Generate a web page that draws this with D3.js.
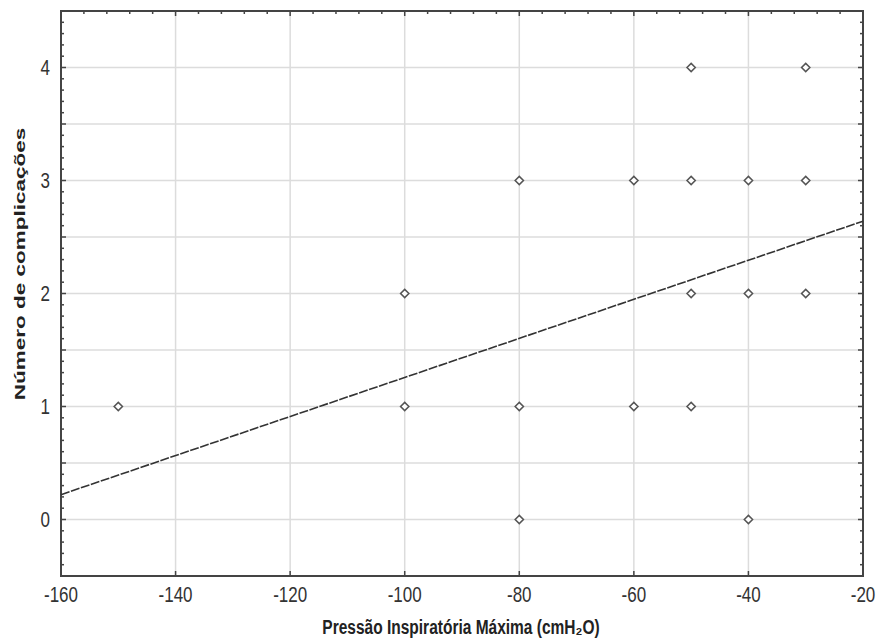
<!DOCTYPE html>
<html>
<head>
<meta charset="utf-8">
<script src="https://cdn.jsdelivr.net/npm/d3@7"></script>
<style>
  body { margin: 0; background: #fff; }
  text { font-family: "Liberation Sans", Arial, sans-serif; }
</style>
</head>
<body>
<script>
// data
let pimax = [-150, -100, -100, -80, -80, -80, -60, -60, -50, -50, -50, -50, -40, -40, -40, -30, -30, -30]
let complications = [1, 2, 1, 3, 1, 0, 3, 1, 4, 3, 2, 1, 3, 2, 0, 4, 3, 2]
let xTicks = [-160, -140, -120, -100, -80, -60, -40, -20]
let yTicks = [0, 1, 2, 3, 4]
let fitX = [-160, -20]
let fitY = [0.22, 2.64]

let w = 881
  , h = 639
  , plotL = 61
  , plotR = 863
  , plotT = 11
  , plotB = 576
  , stretch = 1.3   // the original picture is squeezed sideways, text looks tall

let canvas = d3.select('body')
  .append('svg')
  .attr('width', w)
  .attr('height', h)

let x = d3.scaleLinear().domain([-160, -20]).range([plotL, plotR])
let y = d3.scaleLinear().domain([-0.5, 4.5]).range([plotB, plotT])

// grid
let gridX = d3.range(-140, -20, 20)
let gridY = d3.range(-0.5, 4.51, 0.5)

canvas.selectAll('.gx')
  .data(gridX)
  .enter()
  .append('line')
  .attr('x1', d => x(d)).attr('x2', d => x(d))
  .attr('y1', plotT).attr('y2', plotB)
  .attr('stroke', '#dcdcdc')
  .attr('stroke-width', 1.5)

canvas.selectAll('.gy')
  .data(gridY)
  .enter()
  .append('line')
  .attr('x1', plotL).attr('x2', plotR)
  .attr('y1', d => y(d)).attr('y2', d => y(d))
  .attr('stroke', '#dcdcdc')
  .attr('stroke-width', 1.5)

// ticks, pointing inside
let minorX = d3.range(-160, -19, 4)
let minorY = d3.range(-0.5, 4.51, 0.1)

function tickLen(major) { return major ? 5 : 3 }
function isHalf(d) { return Math.abs(d * 2 - Math.round(d * 2)) < 0.01 }

canvas.selectAll('.tb')
  .data(xTicks)
  .enter()
  .append('line')
  .attr('x1', d => x(d)).attr('x2', d => x(d))
  .attr('y1', plotB).attr('y2', plotB - 5)
  .attr('stroke', '#444').attr('stroke-width', 1.5)

canvas.selectAll('.tt')
  .data(minorX)
  .enter()
  .append('line')
  .attr('x1', d => x(d)).attr('x2', d => x(d))
  .attr('y1', plotT).attr('y2', d => plotT + tickLen(d % 20 == 0))
  .attr('stroke', '#444').attr('stroke-width', 1.5)

canvas.selectAll('.tl')
  .data(minorY)
  .enter()
  .append('line')
  .attr('y1', d => y(d)).attr('y2', d => y(d))
  .attr('x1', plotL).attr('x2', d => plotL + tickLen(isHalf(d)))
  .attr('stroke', '#444').attr('stroke-width', 1.5)

canvas.selectAll('.tr')
  .data(minorY)
  .enter()
  .append('line')
  .attr('y1', d => y(d)).attr('y2', d => y(d))
  .attr('x1', plotR).attr('x2', d => plotR - tickLen(isHalf(d)))
  .attr('stroke', '#444').attr('stroke-width', 1.5)

// frame
canvas.append('rect')
  .attr('x', plotL).attr('y', plotT)
  .attr('width', plotR - plotL).attr('height', plotB - plotT)
  .attr('fill', 'none')
  .attr('stroke', '#444')
  .attr('stroke-width', 2)

// tick labels
canvas.selectAll('.xl')
  .data(xTicks)
  .enter()
  .append('text')
  .attr('transform', d => 'translate(' + x(d) + ',602) scale(1,' + stretch + ')')
  .attr('text-anchor', 'middle')
  .attr('font-size', 17)
  .attr('fill', '#333')
  .text(d => d)

canvas.selectAll('.yl')
  .data(yTicks)
  .enter()
  .append('text')
  .attr('transform', d => 'translate(50,' + (y(d) + 7) + ') scale(1,' + stretch + ')')
  .attr('text-anchor', 'end')
  .attr('font-size', 17)
  .attr('fill', '#333')
  .text(d => d)

// axis titles
canvas.append('text')
  .attr('transform', 'translate(461,634) scale(1,' + stretch + ')')
  .attr('text-anchor', 'middle')
  .attr('font-size', 15.5)
  .attr('font-weight', 'bold')
  .attr('fill', '#222')
  .text('Pressão Inspiratória Máxima (cmH₂O)')

canvas.append('text')
  .attr('transform', 'translate(25,264) rotate(-90) scale(1.5,1)')
  .attr('text-anchor', 'middle')
  .attr('font-size', 15)
  .attr('font-weight', 'bold')
  .attr('fill', '#222')
  .text('Número de complicações')

// fitted line
canvas.append('line')
  .attr('x1', x(fitX[0])).attr('y1', y(fitY[0]))
  .attr('x2', x(fitX[1])).attr('y2', y(fitY[1]))
  .attr('stroke', '#333')
  .attr('stroke-width', 1.6)
  .attr('stroke-dasharray', '9,1.5')

// points as small diamonds
let pts = pimax.map((d, i) => ({ x: d, y: complications[i] }))

canvas.selectAll('.pt')
  .data(pts)
  .enter()
  .append('path')
  .attr('d', d3.symbol().type(d3.symbolDiamond2).size(44))
  .attr('transform', d => 'translate(' + x(d.x) + ',' + y(d.y) + ')')
  .attr('fill', '#fff')
  .attr('stroke', '#555')
  .attr('stroke-width', 1.5)
</script>
</body>
</html>
